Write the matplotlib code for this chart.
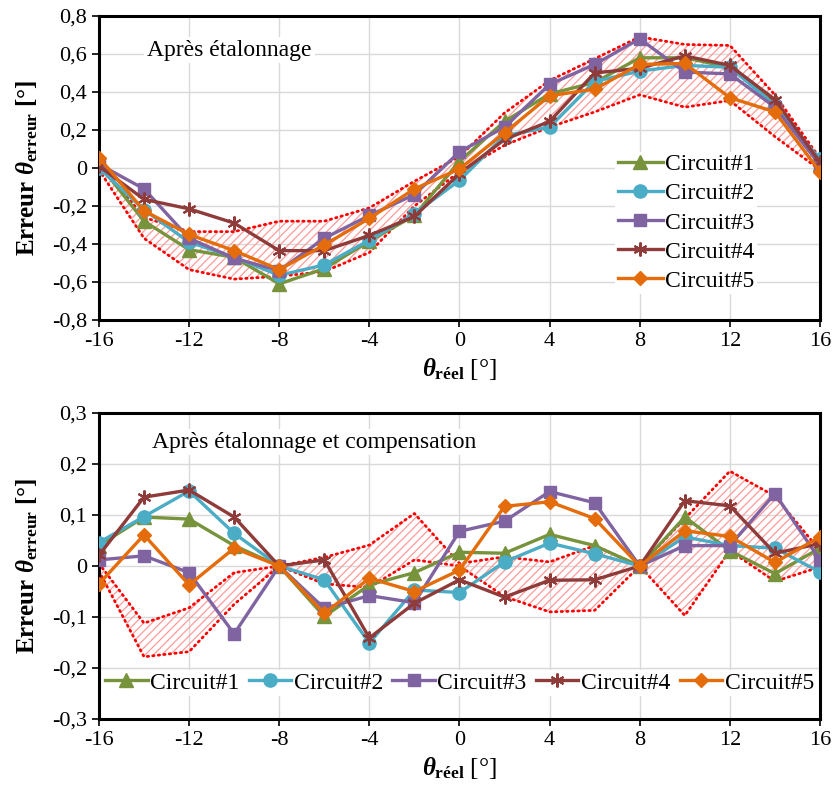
import numpy as np
import matplotlib
matplotlib.use('Agg')
import matplotlib.pyplot as plt
from matplotlib.ticker import FuncFormatter

# angle réel (°)
theta = [-16, -14, -12, -10, -8, -6, -4, -2, 0, 2, 4, 6, 8, 10, 12, 14, 16]
labels = ['Circuit#1', 'Circuit#2', 'Circuit#3', 'Circuit#4', 'Circuit#5']

# Après étalonnage
cal_c1 = [0.02, -0.28, -0.43, -0.47, -0.61, -0.53, -0.385, -0.25, 0.035, 0.245, 0.39, 0.45, 0.58, 0.58, 0.53, 0.35, 0.02]
cal_c2 = [0.0, -0.22, -0.39, -0.47, -0.565, -0.51, -0.38, -0.24, -0.065, 0.17, 0.215, 0.455, 0.51, 0.54, 0.53, 0.33, 0.045]
cal_c3 = [0.02, -0.11, -0.37, -0.475, -0.54, -0.37, -0.25, -0.14, 0.085, 0.215, 0.44, 0.545, 0.68, 0.505, 0.495, 0.32, 0.015]
cal_c4 = [0.01, -0.165, -0.215, -0.29, -0.435, -0.435, -0.355, -0.255, -0.03, 0.15, 0.245, 0.5, 0.525, 0.59, 0.54, 0.36, 0.03]
cal_c5 = [0.055, -0.225, -0.35, -0.435, -0.535, -0.405, -0.265, -0.11, -0.005, 0.185, 0.38, 0.415, 0.545, 0.55, 0.37, 0.295, -0.02]
cal_up = [0.03, -0.26, -0.335, -0.335, -0.28, -0.28, -0.21, -0.07, 0.06, 0.29, 0.46, 0.575, 0.69, 0.65, 0.645, 0.385, 0.05]
cal_lo = [-0.01, -0.37, -0.535, -0.585, -0.57, -0.545, -0.445, -0.2, -0.02, 0.12, 0.215, 0.295, 0.385, 0.32, 0.355, 0.165, -0.01]

# Après étalonnage et compensation
comp_c1 = [0.04, 0.096, 0.092, 0.04, 0.0, -0.099, -0.037, -0.013, 0.027, 0.025, 0.062, 0.04, 0.0, 0.096, 0.03, -0.015, 0.035]
comp_c2 = [0.046, 0.097, 0.147, 0.064, 0.0, -0.027, -0.151, -0.047, -0.052, 0.008, 0.045, 0.024, 0.0, 0.057, 0.04, 0.035, -0.012]
comp_c3 = [0.012, 0.02, -0.013, -0.133, 0.0, -0.083, -0.058, -0.072, 0.068, 0.088, 0.146, 0.124, 0.0, 0.04, 0.04, 0.142, 0.012]
comp_c4 = [0.021, 0.135, 0.149, 0.096, 0.0, 0.012, -0.141, -0.073, -0.027, -0.061, -0.028, -0.027, 0.0, 0.128, 0.118, 0.025, 0.044]
comp_c5 = [-0.035, 0.061, -0.037, 0.035, 0.0, -0.093, -0.024, -0.05, -0.008, 0.117, 0.126, 0.093, 0.0, 0.069, 0.058, 0.007, 0.057]
comp_up = [0.005, -0.112, -0.082, -0.013, 0.0, 0.017, 0.041, 0.103, 0.005, 0.018, 0.008, 0.04, 0.0, 0.093, 0.186, 0.137, 0.03]
comp_lo = [-0.01, -0.178, -0.168, -0.075, 0.0, -0.035, -0.042, 0.012, 0.0, -0.06, -0.09, -0.087, 0.0, -0.097, 0.03, -0.03, -0.002]

colors = ['#77933C', '#4BACC6', '#8064A2', '#8E3B3A', '#E46C0A']
markers = ['^', 'o', 's', (6, 2, 0), 'D']
msizes = [9.5, 9.5, 9, 10, 7.5]

plt.rcParams['font.family'] = ['Liberation Serif', 'DejaVu Serif']
plt.rcParams['mathtext.fontset'] = 'custom'
plt.rcParams['mathtext.it'] = 'Liberation Serif:italic:bold'
plt.rcParams['mathtext.rm'] = 'Liberation Serif:bold'
plt.rcParams['mathtext.bf'] = 'Liberation Serif:bold'
plt.rcParams['axes.unicode_minus'] = False
plt.rcParams['hatch.linewidth'] = 0.9


def fmt(v, pos):
    v = round(v, 2)
    if abs(v) < 1e-9:
        return '0'
    return ('%g' % v).replace('.', ',')


def panel(ax, series, up, lo, ylim, ystep, title, tx, ty):
    ax.fill_between(theta, lo, up, facecolor='none', edgecolor='#FF9A9A',
                    hatch='////', linewidth=0, zorder=1)
    for b in (up, lo):
        ax.plot(theta, b, color='red', lw=2, linestyle=(0, (0.5, 1.5)),
                dash_capstyle='round', zorder=2)
    for s, c, m, ms, lab in zip(series, colors, markers, msizes, labels):
        ax.plot(theta, s, color=c, marker=m, ms=ms, lw=2.4, label=lab, zorder=3,
                mew=1.5 if m == (6, 2, 0) else 1)
    ax.set_xlim(-16, 16)
    ax.set_ylim(*ylim)
    ax.set_xticks(range(-16, 17, 4))
    ax.set_yticks(np.round(np.arange(ylim[0], ylim[1] + 1e-9, ystep), 2))
    ax.yaxis.set_major_formatter(FuncFormatter(fmt))
    ax.grid(True, color='#D9D9D9', lw=1)
    ax.set_axisbelow(True)
    for sp in ax.spines.values():
        sp.set_linewidth(2.2)
        sp.set_color('black')
    ax.tick_params(direction='out', length=5, width=1.2, labelsize=16)
    ax.set_xlabel(r'$\theta_{\rm réel}$ [°]', fontsize=18, labelpad=4)
    ax.set_ylabel(r'Erreur $\theta_{\rm erreur}$ [°]', fontsize=18,
                  fontweight='bold', labelpad=9)
    ax.text(tx, ty, title, transform=ax.transAxes, fontsize=17, va='center',
            bbox=dict(facecolor='white', edgecolor='none', pad=2), zorder=5)


fig = plt.figure(figsize=(8.33, 7.87), dpi=100)
ax1 = fig.add_axes([0.1188, 0.5934, 0.8656, 0.3863])
ax2 = fig.add_axes([0.1188, 0.0864, 0.8656, 0.3888])

panel(ax1, [cal_c1, cal_c2, cal_c3, cal_c4, cal_c5], cal_up, cal_lo,
      (-0.8, 0.8), 0.2, 'Après étalonnage', 0.067, 0.888)
panel(ax2, [comp_c1, comp_c2, comp_c3, comp_c4, comp_c5], comp_up, comp_lo,
      (-0.3, 0.3), 0.1, 'Après étalonnage et compensation', 0.073, 0.905)

leg1 = ax1.legend(loc='upper left', bbox_to_anchor=(0.70, 0.593), fontsize=17,
                  frameon=True, framealpha=1, edgecolor='none', fancybox=False,
                  handlelength=1.9, handletextpad=0.1, labelspacing=0.32,
                  borderpad=0.1)
leg1.set_zorder(6)
leg2 = ax2.legend(loc='center', bbox_to_anchor=(0.5, 0.118), ncol=5, fontsize=17,
                  frameon=True, framealpha=1, edgecolor='none', fancybox=False,
                  handlelength=1.8, handletextpad=0.1, columnspacing=0.4,
                  borderpad=0.1)
leg2.set_zorder(6)

fig.savefig('out.png', dpi=100)
